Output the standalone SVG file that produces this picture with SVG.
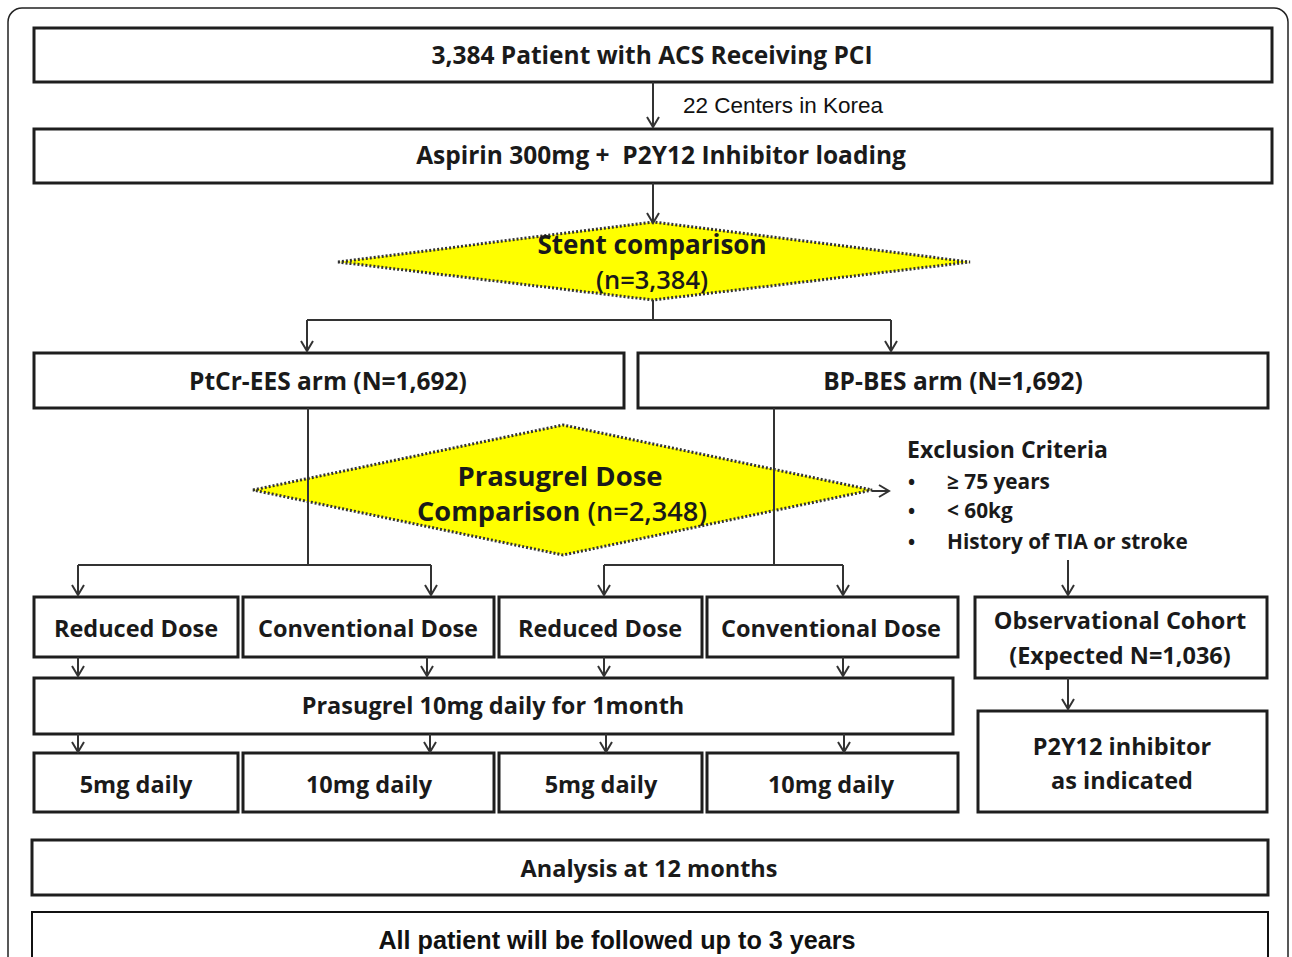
<svg xmlns="http://www.w3.org/2000/svg" width="1292" height="957" viewBox="0 0 1292 957">
<style>
.bx{fill:#fff;stroke:#1e1e1e;stroke-width:3}
.dm{fill:#ffff00;stroke:#333;stroke-width:3;stroke-dasharray:2 2}
.t{font-family:"Open Sans",Lato,sans-serif;font-weight:bold;font-size:23.5px;fill:#1a1a1a;text-anchor:middle}
.tl{font-size:24.5px}
.a{font-family:"Liberation Sans",Arial,sans-serif;fill:#111}
.c{fill:none;stroke:#333;stroke-width:2}
.ar{marker-end:url(#ah)}
</style>
<defs>
<marker id="ah" markerUnits="userSpaceOnUse" markerWidth="16" markerHeight="16" viewBox="-12 -8 14 16" refX="0" refY="0" orient="auto" overflow="visible">
<path d="M-10,-6 L0,0 L-10,6" fill="none" stroke="#333" stroke-width="2"/>
</marker>
</defs>
<rect width="1292" height="957" fill="#fff"/>
<rect x="8" y="8" width="1280" height="970" rx="14" fill="none" stroke="#222" stroke-width="1.5"/>

<g id="n1"><rect class="bx" x="34" y="28" width="1238" height="54"/><text class="t tl" x="652" y="64">3,384 Patient with ACS Receiving PCI</text></g>
<g id="lbl-centers"><text class="a" x="683" y="113" font-size="22.5">22 Centers in Korea</text></g>
<g id="n2"><rect class="bx" x="34" y="129" width="1238" height="54"/><text class="t tl" x="661" y="164" xml:space="preserve">Aspirin 300mg +  P2Y12 Inhibitor loading</text></g>
<g id="d1"><polygon class="dm" points="338,262 653,222 970,262 653,300"/><text class="t" x="652" y="254" style="font-size:26px">Stent comparison</text><text class="t" x="652" y="289" style="font-size:25.5px;font-weight:600">(n=3,384)</text></g>
<g id="n3"><rect class="bx" x="34" y="353" width="590" height="55"/><text class="t tl" x="328" y="390">PtCr-EES arm (N=1,692)</text></g>
<g id="n4"><rect class="bx" x="638" y="353" width="630" height="55"/><text class="t tl" x="953" y="390">BP-BES arm (N=1,692)</text></g>
<g id="d2"><polygon class="dm" points="253,490 563,425 872,490 563,555"/><text class="t" x="560" y="486" style="font-size:27.5px">Prasugrel Dose</text><text class="t" x="562" y="521" style="font-size:27.2px">Comparison <tspan font-weight="600">(n=2,348)</tspan></text></g>
<g id="excl"><text class="t" x="907" y="458" style="text-anchor:start;font-size:23px">Exclusion Criteria</text>
<g class="t" style="text-anchor:start;font-size:20.8px">
<text x="908" y="489" font-size="19">•</text><text x="947" y="489">≥ 75 years</text>
<text x="908" y="518" font-size="19">•</text><text x="947" y="518">&lt; 60kg</text>
<text x="908" y="549" font-size="19">•</text><text x="947" y="549">History of TIA or stroke</text>
</g></g>
<g id="r1a"><rect class="bx" x="34" y="597" width="204" height="60"/><text class="t" x="136" y="637">Reduced Dose</text></g>
<g id="r1b"><rect class="bx" x="243" y="597" width="251" height="60"/><text class="t" x="368" y="637">Conventional Dose</text></g>
<g id="r1c"><rect class="bx" x="499" y="597" width="203" height="60"/><text class="t" x="600" y="637">Reduced Dose</text></g>
<g id="r1d"><rect class="bx" x="707" y="597" width="251" height="60"/><text class="t" x="831" y="637">Conventional Dose</text></g>
<g id="obs"><rect class="bx" x="975" y="597" width="292" height="81"/><text class="t" x="1120" y="629">Observational Cohort</text><text class="t" x="1120" y="664">(Expected N=1,036)</text></g>
<g id="pras"><rect class="bx" x="34" y="678" width="919" height="56"/><text class="t" x="493" y="714">Prasugrel 10mg daily for 1month</text></g>
<g id="r3a"><rect class="bx" x="34" y="753" width="204" height="59"/><text class="t" x="136" y="793">5mg daily</text></g>
<g id="r3b"><rect class="bx" x="243" y="753" width="251" height="59"/><text class="t" x="369" y="793">10mg daily</text></g>
<g id="r3c"><rect class="bx" x="499" y="753" width="203" height="59"/><text class="t" x="601" y="793">5mg daily</text></g>
<g id="r3d"><rect class="bx" x="707" y="753" width="251" height="59"/><text class="t" x="831" y="793">10mg daily</text></g>
<g id="p2y"><rect class="bx" x="978" y="711" width="289" height="101"/><text class="t" x="1122" y="755">P2Y12 inhibitor</text><text class="t" x="1122" y="789">as indicated</text></g>
<g id="anal"><rect class="bx" x="32" y="840" width="1236" height="55"/><text class="t" x="649" y="877">Analysis at 12 months</text></g>
<g id="foll"><rect x="32" y="912" width="1236" height="60" fill="#fff" stroke="#111" stroke-width="2"/><text class="a" x="617" y="949" font-size="25.2" font-weight="bold" text-anchor="middle">All patient will be followed up to 3 years</text></g>

<g id="connectors">
<path class="c ar" d="M653,82 V127"/>
<path class="c ar" d="M653,183 V223"/>
<path class="c" d="M653,300 V320 M307,320 H891"/>
<path class="c ar" d="M307,320 V351"/>
<path class="c ar" d="M891,320 V351"/>
<path class="c" d="M308,408 V565 M78,565 H431"/>
<path class="c ar" d="M78,565 V595"/>
<path class="c ar" d="M431,565 V595"/>
<path class="c" d="M774,408 V565 M604,565 H843"/>
<path class="c ar" d="M604,565 V595"/>
<path class="c ar" d="M843,565 V595"/>
<path class="c ar" d="M872,491 H889"/>
<path class="c ar" d="M1068,560 V595"/>
<path class="c ar" d="M78,657 V676"/>
<path class="c ar" d="M427,657 V676"/>
<path class="c ar" d="M604,657 V676"/>
<path class="c ar" d="M843,657 V676"/>
<path class="c ar" d="M78,734 V752"/>
<path class="c ar" d="M430,734 V752"/>
<path class="c ar" d="M606,734 V752"/>
<path class="c ar" d="M844,734 V752"/>
<path class="c ar" d="M1068,678 V709"/>
</g>
</svg>
